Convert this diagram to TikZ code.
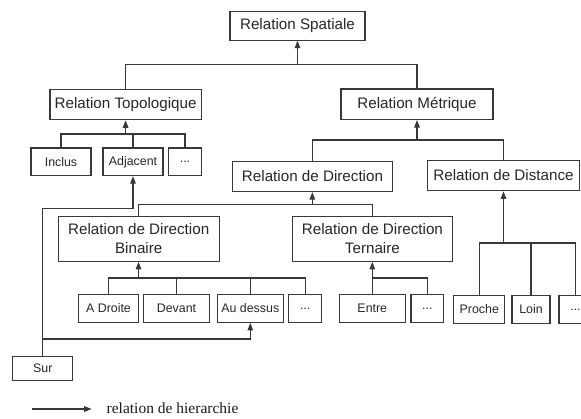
\documentclass[tikz,border=0pt]{standalone}
\usepackage{fontspec}
\setmainfont{Liberation Serif}
\setsansfont{Liberation Sans}
\usetikzlibrary{arrows.meta}
\begin{document}
\begin{tikzpicture}[x=1pt,y=-1pt,
  box/.style={draw=black!78, line width=1.1pt, inner sep=0pt, align=center,
    font=\sffamily\fontsize{15.2}{19.5}\selectfont, text=black!85},
  wide/.style={box, minimum height=30.5pt},
  twoline/.style={box, minimum height=45pt},
  leaf/.style={box, minimum height=27.6pt, font=\sffamily\fontsize{12.4}{14}\selectfont},
  link/.style={draw=black!78, line width=1.1pt},
  arr/.style={link, -{Triangle[length=7.5pt,width=5.5pt]}},
]
\useasboundingbox (0,0) rectangle (581,418);
\clip (0,0) rectangle (581,418);

% top levels
\node[box, minimum width=135pt, minimum height=28.3pt] (spatiale) at (297.5,25.9) {Relation Spatiale};
\node[wide, minimum width=151.3pt] (topo) at (125.6,104.5) {Relation Topologique};
\node[wide, minimum width=152pt] (metrique) at (417,104.2) {Relation M\'etrique};
\node[wide, minimum width=159.6pt] (direction) at (312.5,176.3) {Relation de Direction};
\node[wide, minimum width=151.6pt] (distance) at (503.5,175.5) {Relation de Distance};
\node[twoline, minimum width=160.7pt] (binaire) at (138.7,238.8) {Relation de Direction\\Binaire};
\node[twoline, minimum width=160.2pt] (ternaire) at (372.4,238.8) {Relation de Direction\\Ternaire};

% topological leaves
\node[leaf, minimum width=60pt] (inclus) at (61,161.8) {Inclus};
\node[leaf, minimum width=60pt] (adjacent) at (133,161.8) {Adjacent};
\node[leaf, minimum width=32.6pt] (topdots) at (185,161.8) {...};

% direction leaves
\node[leaf, minimum width=59.7pt] (adroite) at (108.5,308.5) {A Droite};
\node[leaf, minimum width=66pt] (devant) at (176.5,308.5) {Devant};
\node[leaf, minimum width=66.4pt] (audessus) at (250.3,308.5) {Au dessus};
\node[leaf, minimum width=33pt] (bindots) at (305.2,308.5) {...};
\node[leaf, minimum width=66.5pt] (entre) at (372.3,308.5) {Entre};
\node[leaf, minimum width=32.7pt] (terdots) at (427.3,308.5) {...};

% distance leaves
\node[leaf, minimum width=51pt] (proche) at (479.3,309.5) {Proche};
\node[leaf, minimum width=38pt] (loin) at (531,309.5) {Loin};
\node[leaf, minimum width=33pt] (distdots) at (575.5,309.5) {...};

\node[leaf, minimum width=60pt, minimum height=24pt] (sur) at (42.8,368.3) {Sur};

% junction points of the hierarchy bars
\coordinate (bspat) at (297.5,64.3);
\coordinate (btopo) at (125.6,134);
\coordinate (bmetr) at (417,140);
\coordinate (bdir) at (312.3,204.7);
\coordinate (bbin) at (138.5,278);
\coordinate (bter) at (372.3,278);
\coordinate (bdist) at (503.5,243);
\coordinate (sadj) at (42.8,208.3);
\coordinate (sdes) at (42.8,339);

% hierarchy links
\draw[link] (topo.north) |- (bspat) -| (metrique.north);
\draw[arr] (bspat) -- (spatiale.south);

\draw[link] (inclus.north) |- (btopo) -| (topdots.north);
\draw[link] (adjacent.north) -- (adjacent.north |- btopo);
\draw[arr] (btopo) -- (topo.south);

\draw[link] (direction.north -| bdir) |- (bmetr) -| (distance.north);
\draw[arr] (bmetr) -- (metrique.south);

\draw[link] (binaire.north -| bbin) |- (bdir) -| (ternaire.north -| bter);
\draw[arr] (bdir) -- (direction.south -| bdir);

\draw[link] (adroite.north) |- (bbin) -| (bindots.north);
\draw[link] (devant.north) -- (devant.north |- bbin);
\draw[link] (audessus.north) -- (audessus.north |- bbin);
\draw[arr] (bbin) -- (binaire.south -| bbin);

\draw[link] (bter) -| (terdots.north);
\draw[arr] (entre.north) -- (ternaire.south -| entre.north);

\draw[link] (proche.north) |- (bdist) -| (distdots.north);
\draw[link] (loin.north) -- (loin.north |- bdist);
\draw[arr] (bdist) -- (distance.south);

% links from Sur
\draw[arr] (sur.north) -- (sadj) -| (adjacent.south);
\draw[arr] (sdes) -| (audessus.south);

% legend
\coordinate (lega) at (32.3,409);
\coordinate (legb) at (91.7,409);
\draw[arr] (lega) -- (legb);
\node[anchor=base west, inner sep=0pt, font=\fontsize{15.5}{18}\selectfont, text=black!90] (legend) at (106.5,413.5) {relation de hierarchie};
\end{tikzpicture}
\end{document}
